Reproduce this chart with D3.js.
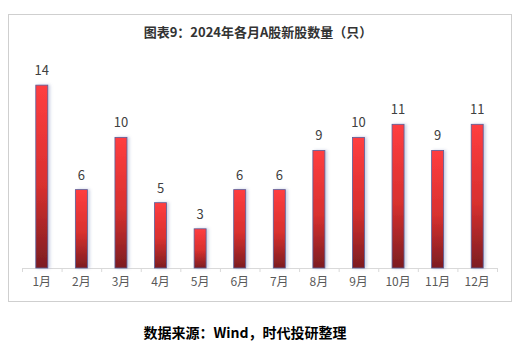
<!DOCTYPE html>
<html>
<head>
<meta charset="utf-8">
<script src="https://cdn.jsdelivr.net/npm/d3@7"></script>
<style>
  body { margin: 0; background: #fff; }
  svg { display: block; }
</style>
</head>
<body>
<div id="chart"></div>
<script>
const months = ['1月', '2月', '3月', '4月', '5月', '6月', '7月', '8月', '9月', '10月', '11月', '12月']
const newListings = [14, 6, 10, 5, 3, 6, 6, 9, 10, 11, 9, 11]
const title = '图表9：2024年各月A股新股数量（只）'
const source = '数据来源：Wind，时代投研整理'

const width = 525
const height = 354
const margin = { top: 59, bottom: 86, left: 22, right: 28 }

const svg = d3.select('#chart')
  .append('svg')
  .attr('width', width)
  .attr('height', height)

const defs = svg.append('defs')

const grad = defs.append('linearGradient')
  .attr('id', 'barFill')
  .attr('x1', 0).attr('y1', 0)
  .attr('x2', 0).attr('y2', 1)
grad.append('stop').attr('offset', '0%').attr('stop-color', '#ff3d40')
grad.append('stop').attr('offset', '55%').attr('stop-color', '#d8302f')
grad.append('stop').attr('offset', '100%').attr('stop-color', '#7c1d22')

const shadow = defs.append('filter')
  .attr('id', 'barShadow')
  .attr('x', '-50%').attr('y', '-10%')
  .attr('width', '200%').attr('height', '120%')
shadow.append('feDropShadow')
  .attr('dx', 2).attr('dy', 0)
  .attr('stdDeviation', 1.5)
  .attr('flood-color', '#6a78b0')
  .attr('flood-opacity', 0.35)

// frame
svg.append('rect')
  .attr('x', 8.5).attr('y', 14.5)
  .attr('width', 503).attr('height', 287)
  .attr('fill', 'none')
  .attr('stroke', '#cfcfcf')

svg.append('text')
  .attr('x', 258).attr('y', 37)
  .attr('text-anchor', 'middle')
  .attr('font-family', '"Noto Sans CJK SC", sans-serif')
  .attr('font-weight', 'bold')
  .attr('font-size', 13)
  .attr('fill', '#333')
  .text(title)

// X
const x = d3.scaleBand()
  .domain(months)
  .range([margin.left, width - margin.right])

// Y
const y = d3.scaleLinear()
  .domain([0, 16])
  .range([height - margin.bottom, margin.top])

const xAxis = g => g
  .attr('transform', `translate(0,${height - margin.bottom})`)
  .call(d3.axisBottom(x).tickSize(0).tickPadding(9))
  .call(g => g.select('.domain').attr('stroke', '#d9d9d9'))
  .call(g => g.selectAll('.tick text')
    .attr('font-family', '"Noto Sans CJK SC", sans-serif')
    .attr('font-size', 12)
    .attr('fill', '#595959'))

svg.append('g').attr('class', 'x').call(xAxis)

// boundary ticks
svg.append('g')
  .selectAll('line')
  .data(months.concat(['end']))
  .join('line')
  .attr('x1', (d, i) => x.range()[0] + i * x.step() + 0.5)
  .attr('x2', (d, i) => x.range()[0] + i * x.step() + 0.5)
  .attr('y1', y(0))
  .attr('y2', y(0) + 4)
  .attr('stroke', '#d9d9d9')

const barW = 12
const bar = svg.append('g')
  .selectAll('g.bar')
  .data(months.map((m, i) => ({ m, v: newListings[i] })))
  .join('g')
  .attr('class', 'bar')
  .attr('transform', d => `translate(${x(d.m) + x.bandwidth() / 2},0)`)

bar.append('rect')
  .attr('x', -barW / 2)
  .attr('y', d => y(d.v))
  .attr('width', barW)
  .attr('height', d => y(0) - y(d.v))
  .attr('fill', 'url(#barFill)')
  .attr('stroke', '#5a5f9a')
  .attr('stroke-width', 0.8)
  .attr('filter', 'url(#barShadow)')

bar.append('text')
  .attr('y', d => y(d.v) - 10)
  .attr('text-anchor', 'middle')
  .attr('font-family', '"Noto Sans CJK SC", sans-serif')
  .attr('font-size', 13)
  .attr('fill', '#404040')
  .text(d => d.v)

svg.append('text')
  .attr('x', 245).attr('y', 338)
  .attr('text-anchor', 'middle')
  .attr('font-family', '"Noto Sans CJK SC", serif')
  .attr('font-weight', 'bold')
  .attr('font-size', 14)
  .attr('fill', '#000')
  .text(source)
</script>
</body>
</html>
